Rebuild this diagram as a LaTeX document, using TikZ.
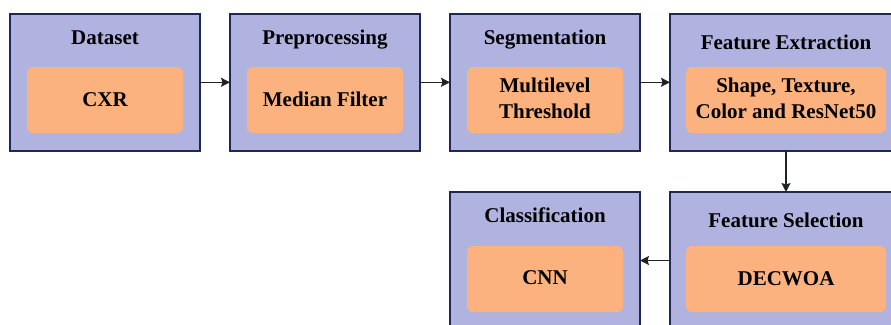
\documentclass[tikz,border=0pt]{standalone}
\usepackage{fontspec}
\setmainfont{Liberation Serif}
\usetikzlibrary{arrows.meta}
\definecolor{boxfill}{HTML}{B0B3E0}
\definecolor{boxline}{HTML}{1F2755}
\definecolor{innerfill}{HTML}{FCB27E}
\definecolor{arrowcol}{HTML}{222222}
\begin{document}
\begin{tikzpicture}[x=1pt,y=-1pt,
  outer/.style={draw=boxline, line width=1.8pt, fill=boxfill, minimum width=#1, minimum height=137pt, inner sep=0pt, outer sep=0pt},
  inner/.style={fill=innerfill, rounded corners=6pt, minimum width=#1, minimum height=66pt, inner sep=0pt},
  title/.style={font=\fontsize{21}{24}\selectfont\bfseries, anchor=base, inner sep=0pt},
  label/.style={font=\fontsize{21}{25.6}\selectfont\bfseries, align=center, inner sep=0pt},
  flow/.style={draw=arrowcol, line width=1.5pt, -{Stealth[length=9pt,width=9pt,inset=1.5pt]}}]
\useasboundingbox (0,0) rectangle (891,324);
\clip (0,0) rectangle (891,324);
% top row
\node[outer=190pt] (b1) at (105,82.3) {};
\node[outer=190pt] (b2) at (325,82.3) {};
\node[outer=190pt] (b3) at (545,82.3) {};
\node[outer=232pt] (b4) at (786,82.3) {};
% bottom row
\node[outer=232pt] (b5) at (786,260.5) {};
\node[outer=190pt] (b6) at (545,260.5) {};
% inner boxes
\node[inner=156pt] (i1) at (105,100) {};
\node[inner=156pt] (i2) at (325,100) {};
\node[inner=156pt] (i3) at (545,100) {};
\node[inner=200pt] (i4) at (786,100) {};
\node[inner=200pt] (i5) at (786,279) {};
\node[inner=156pt] (i6) at (545,279) {};
% titles
\node[title] (t1) at (105,44.3) {Dataset};
\node[title] (t2) at (325,44.3) {Preprocessing};
\node[title] (t3) at (545,44.3) {Segmentation};
\node[title] (t4) at (786,49.3) {Feature Extraction};
\node[title] (t5) at (786,227.3) {Feature Selection};
\node[title] (t6) at (545,222.3) {Classification};
% labels
\node[label, anchor=base] (l1) at (105,106.7) {CXR};
\node[label, anchor=base] (l2) at (325,106.7) {Median Filter};
\node[label, anchor=base] (l3a) at (545,92.7) {Multilevel};
\node[label, anchor=base] (l3b) at (545,118.3) {Threshold};
\node[label, anchor=base] (l4a) at (786,92.7) {Shape, Texture,};
\node[label, anchor=base] (l4b) at (786,118.3) {Color and ResNet50};
\node[label, anchor=base] (l5) at (786,285) {DECWOA};
\node[label, anchor=base] (l6) at (545,284) {CNN};
% connectors
\draw[flow] (b1.east) -- (b2.west);
\draw[flow] (b2.east) -- (b3.west);
\draw[flow] (b3.east) -- (b4.west);
\draw[flow] (b4.south) -- (b5.north);
\draw[flow] (b5.west) -- (b6.east);
\end{tikzpicture}
\end{document}
